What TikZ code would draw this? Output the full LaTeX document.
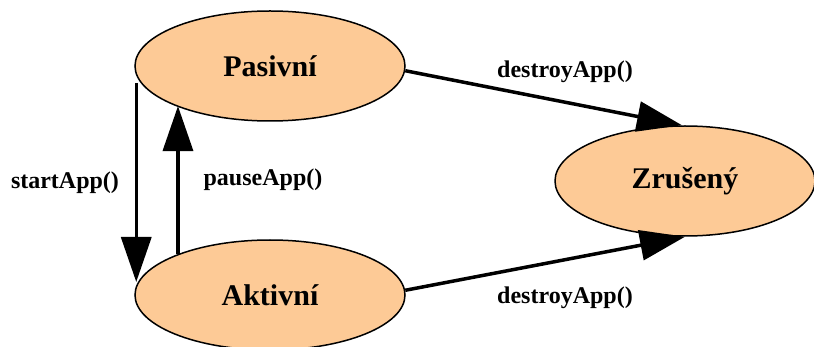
\documentclass[tikz,border=0pt]{standalone}
\usepackage{fontspec}
\setmainfont{Liberation Serif}
\usetikzlibrary{shapes.geometric,arrows.meta,calc}
\definecolor{peach}{HTML}{FDCA96}
\begin{document}
\begin{tikzpicture}[x=1pt,y=-1pt,
  state/.style={ellipse,draw=black,line width=1.5pt,fill=peach,inner sep=0pt,
    minimum width=270pt,minimum height=110pt,font=\fontsize{30}{34}\selectfont\bfseries},
  arr/.style={line width=3.5pt,-{Triangle[length=45pt,width=30pt]}},
  lbl/.style={font=\fontsize{24}{28}\selectfont\bfseries,inner sep=0pt}]
\useasboundingbox (0,0) rectangle (814,347);
\node[state] (P) at (270,66) {Pasivní};
\node[state] (A) at (270,295) {Aktivní};
\node[state,minimum width=260pt] (Z) at (685,181) {\raisebox{-3pt}{Zrušený}};
\draw[arr] ([xshift=2pt,yshift=-17pt]P.west) -- ([xshift=2pt,yshift=13pt]A.west);
\draw[arr] (A.156.5) -- (A.156.5 |- P.203.5);
\draw[arr] (P.-2) -- ([xshift=-3pt]Z.north);
\draw[arr] (A.2) -- (Z.south);
\node[lbl] (l1) at (65,183) {startApp()};
\node[lbl] (l2) at (263,180) {pauseApp()};
\node[lbl] (l3) at (565,72) {destroyApp()};
\node[lbl] (l4) at (565,298) {destroyApp()};
\end{tikzpicture}
\end{document}
